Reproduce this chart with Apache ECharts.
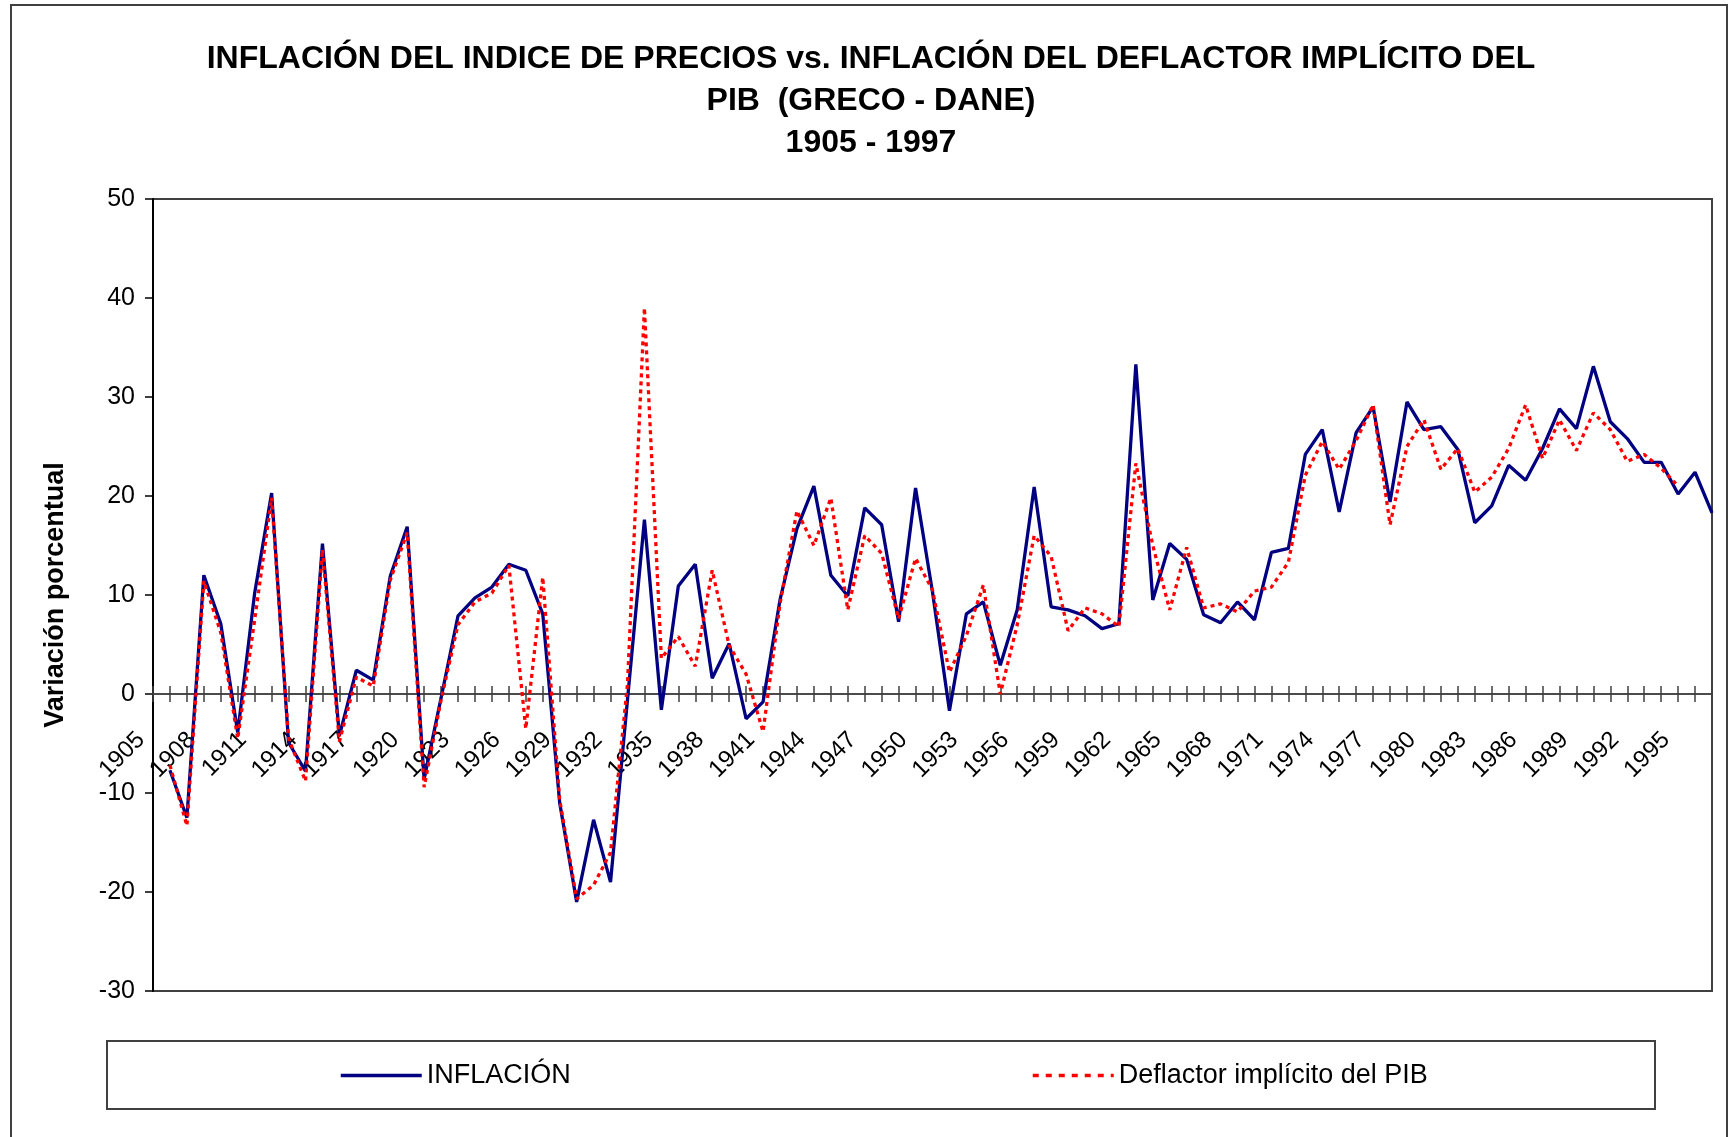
<!DOCTYPE html>
<html>
<head>
<meta charset="utf-8">
<script src="https://cdn.jsdelivr.net/npm/echarts@6/dist/echarts.min.js"></script>
<style>
  html, body { margin: 0; padding: 0; background: #fff; }
  #chart { width: 1730px; height: 1137px; }
</style>
</head>
<body>
<div id="chart"></div>
<script>
// años 1905 - 1997
var years = [];
for (var y = 1905; y <= 1997; y++) { years.push(String(y)); }

// inflación (IPC)
var inflacion = [
  null, -7.7, -12.5, 12.0, 7.1, -3.9, 10.2, 20.3, -4.9, -7.8,
  15.2, -4.2, 2.4, 1.4, 11.9, 16.9, -8.6, -0.4, 7.9, 9.7,
  10.8, 13.1, 12.5, 8.1, -11.0, -21.0, -12.7, -19.0, -0.6, 17.6,
  -1.6, 10.9, 13.1, 1.6, 5.1, -2.5, -0.8, 9.5, 16.7, 21.0,
  12.0, 9.9, 18.8, 17.1, 7.3, 20.8, 10.3, -1.7, 8.1, 9.3,
  2.9, 8.5, 20.9, 8.8, 8.5, 7.9, 6.6, 7.1, 33.3, 9.5,
  15.2, 13.6, 8.0, 7.2, 9.3, 7.5, 14.3, 14.7, 24.2, 26.7,
  18.4, 26.4, 29.0, 19.4, 29.5, 26.7, 27.0, 24.7, 17.3, 19.0,
  23.1, 21.6, 24.8, 28.8, 26.8, 33.1, 27.5, 25.8, 23.4, 23.4,
  20.2, 22.4, 18.3
];

// deflactor implícito del PIB
var deflactor = [
  null, -7.2, -13.3, 11.4, 6.2, -4.5, 7.5, 19.8, -4.5, -8.8,
  14.6, -4.8, 1.7, 0.8, 11.5, 16.3, -9.4, -0.6, 7.0, 9.3,
  10.2, 13.0, -3.5, 11.8, -10.7, -20.7, -19.3, -16.0, 1.0, 39.0,
  3.6, 5.8, 2.8, 12.5, 4.9, 2.0, -3.8, 9.1, 18.5, 15.0,
  19.8, 8.5, 16.0, 14.2, 7.6, 13.7, 10.5, 2.2, 5.9, 11.0,
  0.0, 7.0, 16.0, 13.9, 6.4, 8.7, 8.1, 6.8, 23.3, 15.0,
  8.5, 14.8, 8.7, 9.1, 8.3, 10.4, 10.8, 13.3, 22.1, 25.5,
  22.7, 25.6, 29.2, 17.1, 25.0, 27.7, 22.7, 24.8, 20.4, 21.9,
  24.8, 29.2, 23.8, 27.7, 24.6, 28.4, 26.7, 23.5, 24.2, 22.8,
  21.0, null, null
];

var fuente = 'Liberation Sans, Arial, sans-serif';

// grid: top 199, alto 792, eje en -30..50 -> el cero queda a 495 px del borde superior
var gridTop = 199, gridH = 792, yMin = -30, yMax = 50;
var ceroDesdeArriba = gridH * yMax / (yMax - yMin);

var myChart = echarts.init(document.getElementById('chart'));

option = {
    animation: false,
    backgroundColor: '#ffffff',
    textStyle: { fontFamily: fuente },
    title: {
        text: 'INFLACIÓN DEL INDICE DE PRECIOS vs. INFLACIÓN DEL DEFLACTOR IMPLÍCITO DEL\nPIB  (GRECO - DANE)\n1905 - 1997',
        left: 871,
        top: 38,
        padding: 0,
        textAlign: 'center',
        textStyle: {
            fontFamily: fuente,
            fontSize: 32,
            fontWeight: 'bold',
            color: '#000',
            lineHeight: 42
        }
    },
    legend: [
        {
            data: ['INFLACIÓN'],
            left: 339,
            top: 1062,
            padding: 0,
            itemWidth: 81,
            itemHeight: 14,
            itemStyle: { color: 'rgba(0,0,0,0)', borderWidth: 0, opacity: 0 },
            lineStyle: { width: 3.5 },
            textStyle: { fontFamily: fuente, fontSize: 27, color: '#000' }
        },
        {
            data: ['Deflactor implícito del PIB'],
            left: 1031,
            top: 1062,
            padding: 0,
            itemWidth: 81,
            itemHeight: 14,
            itemStyle: { color: 'rgba(0,0,0,0)', borderWidth: 0, opacity: 0 },
            lineStyle: { type: [6, 7], width: 3.5 },
            textStyle: { fontFamily: fuente, fontSize: 27, color: '#000' }
        }
    ],
    grid: {
        left: 153,
        top: gridTop,
        width: 1559,
        height: gridH,
        show: true,
        borderColor: '#404040',
        borderWidth: 2,
        containLabel: false
    },
    xAxis: [
        {
            // eje con etiquetas, movido hasta el cero
            type: 'category',
            data: years,
            boundaryGap: false,
            position: 'bottom',
            offset: -(gridH - ceroDesdeArriba),
            axisLine: { onZero: false, lineStyle: { color: '#404040', width: 1.5 } },
            axisTick: { interval: 0, length: 8, lineStyle: { color: '#404040', width: 1.5 } },
            axisLabel: {
                interval: 2,
                rotate: 45,
                margin: 30,
                padding: [0, 17, 0, 0],
                fontFamily: fuente,
                fontSize: 24,
                color: '#000'
            },
            splitLine: { show: false }
        },
        {
            // solo las marcas hacia arriba
            type: 'category',
            data: years,
            boundaryGap: false,
            position: 'top',
            offset: -ceroDesdeArriba,
            axisLine: { onZero: false, lineStyle: { color: '#404040', width: 1.5 } },
            axisTick: { interval: 0, length: 8, lineStyle: { color: '#404040', width: 1.5 } },
            axisLabel: { show: false },
            splitLine: { show: false }
        }
    ],
    yAxis: {
        type: 'value',
        min: yMin,
        max: yMax,
        interval: 10,
        name: 'Variación porcentual',
        nameLocation: 'middle',
        nameGap: 84,
        nameRotate: 90,
        nameTextStyle: { fontFamily: fuente, fontSize: 27, fontWeight: 'bold', color: '#000' },
        axisLine: { show: true, lineStyle: { color: '#000', width: 2 } },
        axisTick: { show: true, length: 8, lineStyle: { color: '#000', width: 1.5 } },
        axisLabel: { margin: 18, fontFamily: fuente, fontSize: 25, color: '#000' },
        splitLine: { show: false }
    },
    series: [
        {
            name: 'INFLACIÓN',
            type: 'line',
            data: inflacion,
            symbol: 'none',
            lineStyle: { color: '#000080', width: 3.3 },
            itemStyle: { color: '#000080' }
        },
        {
            name: 'Deflactor implícito del PIB',
            type: 'line',
            data: deflactor,
            symbol: 'none',
            lineStyle: { color: '#ff0000', width: 3.3, type: [4, 4] },
            itemStyle: { color: '#ff0000' }
        }
    ],
    graphic: [
        {
            type: 'rect',
            shape: { x: 11, y: 5, width: 1716, height: 1145 },
            style: { fill: 'none', stroke: '#404040', lineWidth: 2 },
            silent: true
        },
        {
            type: 'rect',
            shape: { x: 107, y: 1041, width: 1548, height: 68 },
            style: { fill: 'none', stroke: '#404040', lineWidth: 2 },
            silent: true
        }
    ]
};
myChart.setOption(option);
</script>
</body>
</html>
